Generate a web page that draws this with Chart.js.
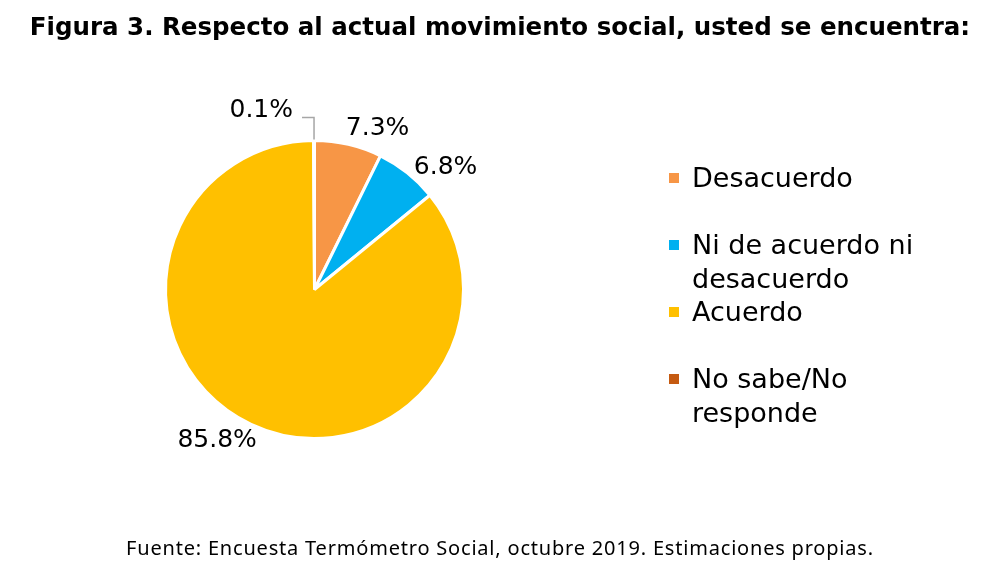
<!DOCTYPE html>
<html>
<head>
<meta charset="utf-8">
<script src="https://cdn.jsdelivr.net/npm/chart.js@4.4.0/dist/chart.umd.min.js"></script>
<style>
  html, body { margin: 0; padding: 0; background: #fff; }
  #wrap { position: relative; width: 1000px; height: 572px; overflow: hidden; }
  #pie { position: absolute; left: 0; top: 0; }
  #title {
    position: absolute; left: 0; top: 10px; width: 1000px; text-align: center;
    font: bold 24.5px "DejaVu Sans", Verdana, sans-serif; line-height: 34px; color: #000;
    white-space: nowrap;
  }
  #legend { position: absolute; left: 669px; top: 161px; width: 320px; }
  .item { position: relative; height: 67px; }
  .box { position: absolute; left: 0; top: 12px; width: 10px; height: 10px; }
  .txt {
    position: absolute; left: 23px; top: 0; width: 250px;
    font: 27px "DejaVu Sans", Verdana, sans-serif; line-height: 33.5px; color: #000;
  }
  #source {
    position: absolute; left: 0; top: 534px; width: 1000px; text-align: center;
    font: 20px "Noto Sans", "Open Sans", sans-serif; letter-spacing: 0.8px; color: #000;
    white-space: nowrap;
  }
</style>
</head>
<body>
<div id="wrap">
  <canvas id="pie" width="1000" height="572"></canvas>
  <div id="title">Figura 3. Respecto al actual movimiento social, usted se encuentra:</div>
  <div id="legend"></div>
  <div id="source">Fuente: Encuesta Termómetro Social, octubre 2019. Estimaciones propias.</div>
</div>
<script>
// Chart data
const categories = ['Desacuerdo', 'Ni de acuerdo ni desacuerdo', 'Acuerdo', 'No sabe/No responde'];
const shares = [7.3, 6.8, 85.8, 0.1];
const colors = ['#F79646', '#00B0F0', '#FFC000', '#C55A11'];

// Percent labels outside the slices, with a leader line for the tiny one
const sliceLabels = {
    id: 'sliceLabels',
    afterDatasetsDraw(chart) {
        const ctx = chart.ctx;
        const meta = chart.getDatasetMeta(0);
        ctx.save();
        ctx.font = '25px "DejaVu Sans", Verdana, sans-serif';
        ctx.fillStyle = '#000';
        ctx.textBaseline = 'middle';
        meta.data.forEach((arc, i) => {
            const mid = (arc.startAngle + arc.endAngle) / 2;
            const text = shares[i].toFixed(1) + '%';
            if (shares[i] < 1) {
                const x0 = arc.x + (arc.outerRadius + 1) * Math.cos(mid);
                const y0 = arc.y + (arc.outerRadius + 1) * Math.sin(mid);
                ctx.strokeStyle = '#A6A6A6';
                ctx.lineWidth = 1.5;
                ctx.beginPath();
                ctx.moveTo(x0, y0);
                ctx.lineTo(x0, y0 - 22);
                ctx.lineTo(x0 - 12, y0 - 22);
                ctx.stroke();
                ctx.textAlign = 'right';
                ctx.fillText(text, x0 - 21, y0 - 29);
            } else {
                const a = mid + 0.14;
                const s = Math.abs(Math.cos(a));
                const d = arc.outerRadius + 20 + 16 * s;
                ctx.textAlign = 'center';
                ctx.fillText(text, arc.x + d * Math.cos(a), arc.y + d * Math.sin(a) + 2);
            }
        });
        ctx.restore();
    }
};

const ctx = document.getElementById('pie').getContext('2d');
const pieChart = new Chart(ctx, {
    type: 'pie',
    data: {
        labels: categories,
        datasets: [{
            data: shares,
            backgroundColor: colors,
            borderColor: '#fff',
            borderWidth: 3
        }]
    },
    options: {
        responsive: false,
        animation: false,
        layout: { padding: { left: 164, top: 139, right: 535, bottom: 132 } },
        plugins: {
            legend: { display: false },
            tooltip: { enabled: false }
        }
    },
    plugins: [sliceLabels]
});

// Legend built from the same arrays
const legend = document.getElementById('legend');
categories.forEach((name, i) => {
    const item = document.createElement('div');
    item.className = 'item';
    item.innerHTML = `<span class="box" style="background:${colors[i]}"></span><span class="txt">${name}</span>`;
    legend.appendChild(item);
});
</script>
</body>
</html>
